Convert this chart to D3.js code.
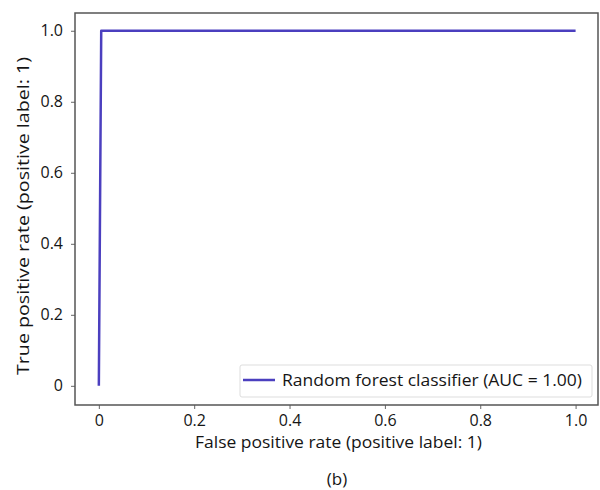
<!DOCTYPE html>
<html>
<head>
<meta charset="utf-8">
<script src="https://cdn.jsdelivr.net/npm/d3@7"></script>
<style>
  html, body { margin: 0; padding: 0; background: #fff; }
  svg { display: block; }
  text { font-family: "Open Sans", "Noto Sans", sans-serif; fill: #151515; }
</style>
</head>
<body>
<svg id="chart" width="600" height="490"></svg>
<script>
// ROC curve of the random forest classifier
const fpr = [0, 0.005, 1];
const tpr = [0, 1, 1];
const xTicks = [0, 0.2, 0.4, 0.6, 0.8, 1.0];
const yTicks = [0, 0.2, 0.4, 0.6, 0.8, 1.0];
const xTickLabels = ["0", "0.2", "0.4", "0.6", "0.8", "1.0"];
const yTickLabels = ["0", "0.2", "0.4", "0.6", "0.8", "1.0"];
const seriesName = "Random forest classifier (AUC = 1.00)";

const svg = d3.select("#chart");
const frame = { left: 75, right: 598, top: 13, bottom: 405 };

const x = d3.scaleLinear().domain([-0.05, 1.047]).range([frame.left, frame.right]);
const y = d3.scaleLinear().domain([-0.054, 1.05]).range([frame.bottom, frame.top]);

// Axes
const xAxis = d3.axisBottom(x).tickValues(xTicks)
  .tickFormat((d, i) => xTickLabels[i]).tickSize(4).tickPadding(6);
const yAxis = d3.axisLeft(y).tickValues(yTicks)
  .tickFormat((d, i) => yTickLabels[i]).tickSize(4).tickPadding(8);

const gx = svg.append("g").attr("transform", `translate(0,${frame.bottom})`).call(xAxis);
const gy = svg.append("g").attr("transform", `translate(${frame.left},0)`).call(yAxis);
[gx, gy].forEach(g => {
  g.select(".domain").remove();
  g.selectAll(".tick line").attr("stroke", "#666").attr("stroke-width", 1);
  g.selectAll(".tick text").style("font-size", "16px").attr("fill", "#151515");
});

// Plot frame
svg.append("rect")
  .attr("x", frame.left).attr("y", frame.top)
  .attr("width", frame.right - frame.left).attr("height", frame.bottom - frame.top)
  .attr("fill", "none").attr("stroke", "#555").attr("stroke-width", 1.5);

// ROC line
const line = d3.line().x((d, i) => x(fpr[i])).y((d, i) => y(tpr[i]));
svg.append("path").datum(fpr)
  .attr("d", line)
  .attr("fill", "none")
  .attr("stroke", "#4b3fbf")
  .attr("stroke-width", 2.5)
  .attr("stroke-linejoin", "round");

// Legend
const lg = svg.append("g");
lg.append("rect")
  .attr("x", 240).attr("y", 365).attr("width", 352).attr("height", 32)
  .attr("rx", 2).attr("fill", "#fff").attr("stroke", "#ddd").attr("stroke-width", 1);
lg.append("line")
  .attr("x1", 243).attr("x2", 275).attr("y1", 380).attr("y2", 380)
  .attr("stroke", "#4b3fbf").attr("stroke-width", 2.5);
lg.append("text")
  .attr("x", 282).attr("y", 386)
  .attr("textLength", 300).attr("lengthAdjust", "spacingAndGlyphs")
  .style("font-size", "17px")
  .text(seriesName);

// Axis titles
svg.append("text")
  .attr("x", 195).attr("y", 448)
  .attr("textLength", 287).attr("lengthAdjust", "spacingAndGlyphs")
  .style("font-size", "17px")
  .text("False positive rate (positive label: 1)");
svg.append("text")
  .attr("transform", "translate(29,375) rotate(-90)")
  .attr("textLength", 318).attr("lengthAdjust", "spacingAndGlyphs")
  .style("font-size", "17px")
  .text("True positive rate (positive label: 1)");

// Panel caption
svg.append("text")
  .attr("x", 337).attr("y", 485)
  .attr("text-anchor", "middle").style("font-size", "17px")
  .text("(b)");
</script>
</body>
</html>
